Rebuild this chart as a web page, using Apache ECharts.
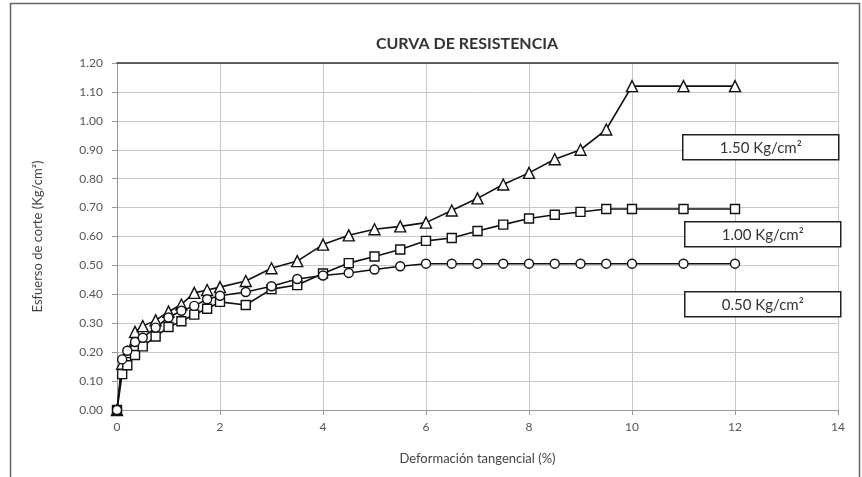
<!DOCTYPE html>
<html>
<head>
<meta charset="utf-8">
<script src="https://cdn.jsdelivr.net/npm/echarts@6/dist/echarts.min.js"></script>
<style>
html,body{margin:0;padding:0;background:#fff;}
#chart{width:862px;height:477px;}
</style>
</head>
<body>
<div id="chart"></div>
<script>
// Deformación tangencial (%)
var deformacion = [0, 0.1, 0.2, 0.35, 0.5, 0.75, 1.0, 1.25, 1.5, 1.75, 2.0, 2.5, 3.0, 3.5, 4.0, 4.5, 5.0, 5.5, 6.0, 6.5, 7.0, 7.5, 8.0, 8.5, 9.0, 9.5, 10.0, 11.0, 12.0];
// Esfuerso de corte (Kg/cm2)
var esfuerzo150 = [0, 0.16, 0.20, 0.27, 0.29, 0.31, 0.34, 0.365, 0.405, 0.415, 0.425, 0.446, 0.49, 0.515, 0.572, 0.604, 0.625, 0.635, 0.648, 0.69, 0.732, 0.78, 0.82, 0.867, 0.90, 0.97, 1.12, 1.12, 1.12];
var esfuerzo100 = [0, 0.124, 0.155, 0.19, 0.22, 0.254, 0.287, 0.307, 0.33, 0.35, 0.374, 0.363, 0.418, 0.432, 0.472, 0.508, 0.531, 0.555, 0.585, 0.595, 0.619, 0.641, 0.662, 0.675, 0.685, 0.695, 0.695, 0.695, 0.695];
var esfuerzo050 = [0, 0.175, 0.205, 0.235, 0.25, 0.285, 0.32, 0.343, 0.36, 0.383, 0.395, 0.408, 0.428, 0.453, 0.465, 0.474, 0.486, 0.497, 0.506, 0.506, 0.506, 0.506, 0.506, 0.506, 0.506, 0.506, 0.506, 0.506, 0.506];
var etiquetas = ['1.50 Kg/cm\u00B2', '1.00 Kg/cm\u00B2', '0.50 Kg/cm\u00B2'];

function pairs(ys){ return deformacion.map(function(x,i){ return [x, ys[i]]; }); }

var FONT = 'Lato';
var chart = echarts.init(document.getElementById('chart'), null, {renderer:'canvas'});

function mkSeries(name, ys, symbol, size){
  return {
    name: name, type: 'line', data: pairs(ys),
    symbol: symbol, symbolSize: size, showAllSymbol: true,
    lineStyle: {color:'#111', width:1.6},
    itemStyle: {color:'#fff', borderColor:'#111', borderWidth:1.4},
    z: 3, animation: false
  };
}

function boxLabel(text, left, top){
  return {
    type:'group', left:left, top:top, z:100,
    children:[
      {type:'rect', z:100, shape:{x:0,y:0,width:156,height:25}, style:{fill:'#ffffff', stroke:'#222', lineWidth:1.5}},
      {type:'text', z:101, style:{text:text, x:78, y:13, textAlign:'center', textVerticalAlign:'middle', font:'15px '+FONT, fill:'#333'}}
    ]
  };
}

chart.setOption({
  backgroundColor:'#fff',
  animation:false,
  title:{text:'CURVA DE RESISTENCIA', left:462, top:31, textAlign:'center',
    textStyle:{fontFamily:FONT, fontSize:16, fontWeight:'bold', color:'#333'}},
  grid:{left:117, right:24, top:63, bottom:67},
  xAxis:[{
    type:'value', min:0, max:14, interval:2,
    name:'Deformación tangencial (%)', nameLocation:'middle', nameGap:42,
    nameTextStyle:{fontFamily:FONT, fontSize:13, color:'#444'},
    axisLine:{show:true, lineStyle:{color:'#999'}},
    axisTick:{show:true, length:5, lineStyle:{color:'#999'}},
    axisLabel:{fontFamily:FONT, fontSize:12, color:'#555', margin:11},
    splitLine:{show:true, lineStyle:{color:'#c8c8c8'}}
  },{
    type:'value', min:0, max:14, position:'top',
    axisLine:{show:true, onZero:false, lineStyle:{color:'#333', width:1.5}},
    axisTick:{show:false}, axisLabel:{show:false}, splitLine:{show:false}
  }],
  yAxis:{
    type:'value', min:0, max:1.2, interval:0.1,
    name:'Esfuerso de corte (Kg/cm\u00B2)', nameLocation:'middle', nameGap:73, nameRotate:90,
    nameTextStyle:{fontFamily:FONT, fontSize:13, color:'#444'},
    axisLine:{show:true, lineStyle:{color:'#999'}},
    axisTick:{show:true, length:5, lineStyle:{color:'#999'}},
    axisLabel:{fontFamily:FONT, fontSize:12, color:'#555', margin:14,
      formatter:function(v){ return v.toFixed(2); }},
    splitLine:{show:true, lineStyle:{color:'#c8c8c8'}}
  },
  series:[
    mkSeries(etiquetas[0], esfuerzo150, 'triangle', 11),
    mkSeries(etiquetas[1], esfuerzo100, 'rect', 9),
    mkSeries(etiquetas[2], esfuerzo050, 'circle', 9)
  ],
  graphic:[
    {type:'rect', left:8, top:1, z:-1, shape:{width:849, height:490}, style:{fill:'none', stroke:'#666', lineWidth:1.5}},
    boxLabel(etiquetas[0], 682, 134),
    boxLabel(etiquetas[1], 684, 221),
    boxLabel(etiquetas[2], 684, 291)
  ]
});
</script>
</body>
</html>
